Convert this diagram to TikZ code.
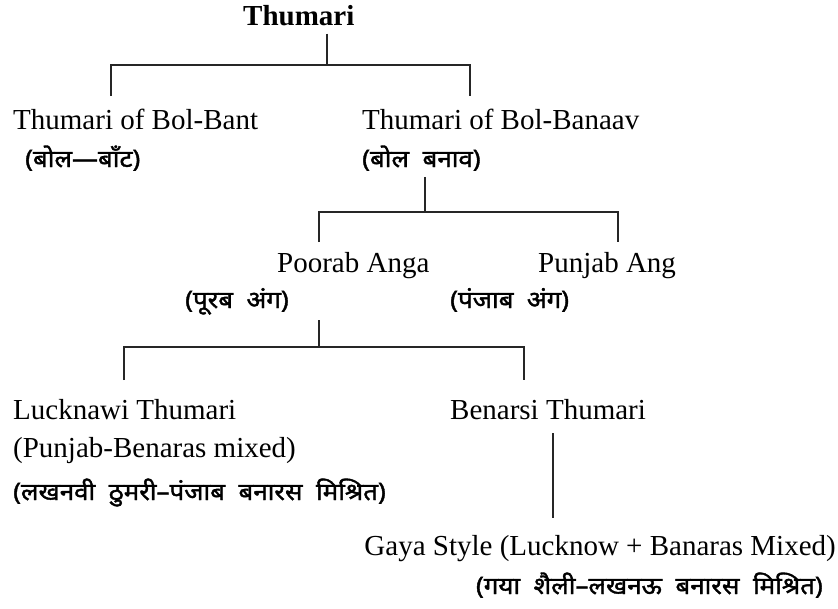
\documentclass[tikz,border=0pt]{standalone}
\usepackage{fontspec}
\setmainfont{Liberation Serif}
\newfontfamily\hindi[Script=Devanagari, FakeBold=1.6, FakeStretch=1.08, WordSpace=2]{Noto Sans}

\tikzset{
  eng/.style={anchor=base west, inner sep=0, font=\fontsize{29}{34}\selectfont},
  hin/.style={anchor=base west, inner sep=0, font=\hindi\fontsize{24}{28}\selectfont},
  branch/.style={draw=black!85, line width=1.2pt},
}

\begin{document}
\begin{tikzpicture}[x=1pt, y=-1pt]
    \useasboundingbox (0,0) rectangle (838,608);
    % level 0
    \node[eng, font=\bfseries\fontsize{29}{34}\selectfont] (top) at (243,25) {Thumari};
    % level 1
    \node[eng] (bant) at (13,129) {Thumari of Bol-Bant};
    \node[hin] (bantHi) at (25,167) {(बोल—बाँट)};
    \node[eng] (banaav) at (362,129) {Thumari of Bol-Banaav};
    \node[hin] (banaavHi) at (362,167) {(बोल बनाव)};
    % level 2
    \node[eng] (poorab) at (277,272) {Poorab Anga};
    \node[hin] (poorabHi) at (185,308) {(पूरब अंग)};
    \node[eng] (punjab) at (538,272) {Punjab Ang};
    \node[hin] (punjabHi) at (450,308) {(पंजाब अंग)};
    % level 3
    \node[eng] (lucknawi) at (13,419) {Lucknawi Thumari};
    \node[eng] (mixed) at (13,457) {(Punjab-Benaras mixed)};
    \node[hin] (lucknawiHi) at (13,500) {(लखनवी ठुमरी–पंजाब बनारस मिश्रित)};
    \node[eng] (benarsi) at (450,419) {Benarsi Thumari};
    % level 4
    \node[eng, anchor=base east] (gaya) at (836,555) {Gaya Style (Lucknow + Banaras Mixed)};
    \node[hin, anchor=base east] (gayaHi) at (823,594) {(गया शैली–लखनऊ बनारस मिश्रित)};

    % forks
    \coordinate (f1) at (327,65);
    \coordinate (bantT) at (111,96);
    \coordinate (banaavT) at (470,96);
    \draw[branch, shorten <=8pt] (top.south -| f1) -- (f1);
    \draw[branch] (bantT) |- (f1) -| (banaavT);

    \coordinate (f2) at (425,212);
    \coordinate (poorabT) at (319,242);
    \coordinate (punjabT) at (618,242);
    \draw[branch, shorten <=6pt] (banaavHi.south -| f2) -- (f2);
    \draw[branch] (poorabT) |- (f2) -| (punjabT);

    \coordinate (f3) at (319,347);
    \coordinate (f3top) at (319,320);
    \coordinate (lucknawiT) at (124,380);
    \coordinate (benarsiT) at (524,380);
    \draw[branch] (f3top) -- (f3);
    \draw[branch] (lucknawiT) |- (f3) -| (benarsiT);

    \coordinate (gayaT) at (553,518);
    \draw[branch, shorten <=14pt] (benarsi.south -| gayaT) -- (gayaT);
\end{tikzpicture}
\end{document}
